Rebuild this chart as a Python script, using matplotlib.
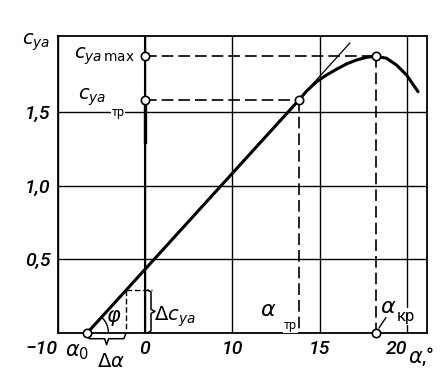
import numpy as np
import matplotlib
matplotlib.use('Agg')
import matplotlib.pyplot as plt

plt.rcParams['font.family'] = ['Roboto', 'DejaVu Sans']
plt.rcParams['mathtext.fontset'] = 'dejavusans'

# values (x in degrees as labelled on the axis)
alpha0 = -6.6          # zero-lift angle
alpha_tr = 13.8
alpha_kr = 18.22
cy_tr = 1.58
cy_max = 1.88
dalpha_end = -2.2      # end of the delta-alpha step
dcy = 0.29             # delta c_ya for that step

curve_alpha = [alpha0, 13.8, 14.25, 14.83, 15.40, 15.97, 16.54, 17.12, 17.69, 18.22,
               18.83, 19.40, 19.98, 20.64]
curve_cy = [0.0, 1.58, 1.643, 1.707, 1.753, 1.792, 1.828, 1.855, 1.873, 1.88,
            1.867, 1.821, 1.753, 1.639]
tangent_alpha = [alpha0, 16.73]
tangent_cy = [0.0, 1.97]

xticks = [-10, 0, 10, 15, 20]
xticklabels = ['\u221210', '0', '10', '15', '20']
yticks = [0.5, 1.0, 1.5]
yticklabels = ['0,5', '1,0', '1,5']


# the drawn axis is not uniform: -10..10 is squeezed to half the scale of 10..20
def fwd(x):
    x = np.asarray(x, dtype=float)
    return np.where(x <= 10, 5 + x / 2, x)


def inv(p):
    p = np.asarray(p, dtype=float)
    return np.where(p <= 10, 2 * (p - 5), p)


fig = plt.figure(figsize=(4.44, 3.74), dpi=100)
ax = fig.add_axes([0.130, 0.1104, 0.8317, 0.7941])
ax.set_xscale('function', functions=(fwd, inv))
ax.set_xlim(-10, 21.15)
ax.set_ylim(0, 2.02)

ax.set_xticks(xticks)
ax.set_xticklabels(xticklabels)
ax.set_yticks(yticks)
ax.set_yticklabels(yticklabels)
ax.tick_params(length=0, labelsize=14)
ax.tick_params(axis='x', pad=5)
ax.tick_params(axis='y', pad=5)
for lab in ax.get_xticklabels() + ax.get_yticklabels():
    lab.set_style('italic')
    lab.set_fontweight('medium')
xl = ax.get_xticklabels()
xl[0].set_ha('right')
xl[-1].set_ha('right')
for s in ax.spines.values():
    s.set_linewidth(1.3)

ax.grid(True, color='black', lw=1.0)
ax.axvline(0, color='black', lw=1.5)
ax.plot([0, 0], [cy_tr, 1.30], color='black', lw=2.4)

dash = (0, (7, 3))
ax.plot([0, alpha_kr], [cy_max, cy_max], color='black', lw=1.2, ls=dash)
ax.plot([0, alpha_tr], [cy_tr, cy_tr], color='black', lw=1.2, ls=dash)
ax.plot([alpha_tr, alpha_tr], [cy_tr, 0], color='black', lw=1.2, ls=dash)
ax.plot([alpha_kr, alpha_kr], [cy_max, 0], color='black', lw=1.2, ls=dash)
ax.plot([dalpha_end, dalpha_end], [dcy, 0], color='black', lw=1.0, ls=(0, (4, 2)))
ax.plot([dalpha_end, 0.75], [dcy, dcy], color='black', lw=1.0, ls=(0, (4, 2)))

ax.plot(tangent_alpha, tangent_cy, color='black', lw=0.9)
ax.plot(curve_alpha, curve_cy, color='black', lw=2.2, solid_capstyle='round',
        solid_joinstyle='round')

mk = dict(marker='o', ms=6, mfc='white', mec='black', mew=1.2, ls='none', clip_on=False, zorder=5)
ax.plot([alpha0, 0, 0, alpha_tr, alpha_kr, alpha_kr], [0, cy_tr, cy_max, cy_tr, cy_max, 0], **mk)

# angle arc phi, drawn round in pixels
p0 = ax.transData.transform((alpha0, 0))
p1 = ax.transData.transform((alpha_tr, cy_tr))
ang = np.arctan2(p1[1] - p0[1], p1[0] - p0[0])
t = np.linspace(0, ang, 30)
arc = ax.transData.inverted().transform(np.column_stack([p0[0] + 21 * np.cos(t), p0[1] + 21 * np.sin(t)]))
ax.plot(arc[:, 0], arc[:, 1], color='black', lw=1.0, clip_on=False)


def brace(a, b, depth, nub, horizontal=True):
    # a, b in display pixels; brace bulges along -y (horizontal) or +x (vertical)
    if horizontal:
        xa, xb, y0 = a[0], b[0], a[1]
        xm = (xa + xb) / 2
        pts = [(xa, y0 - 1), (xa + 2, y0 - depth), (xm - 2, y0 - depth), (xm, y0 - nub),
               (xm + 2, y0 - depth), (xb - 2, y0 - depth), (xb, y0 - 1)]
    else:
        ya, yb, x0 = a[1], b[1], a[0]
        ym = (ya + yb) / 2
        pts = [(x0 - 3, ya), (x0, ya + 2), (x0, ym - 2), (x0 + 4, ym),
               (x0, ym + 2), (x0, yb - 2), (x0 - 3, yb)]
    d = ax.transData.inverted().transform(np.array(pts))
    ax.plot(d[:, 0], d[:, 1], color='black', lw=1.1, clip_on=False)


brace(ax.transData.transform((alpha0, 0)), ax.transData.transform((dalpha_end, 0)), 6, 12)
q = ax.transData.transform((0, 0))
brace((q[0] + 6, q[1]), (q[0] + 6, ax.transData.transform((0, dcy))[1]), 0, 0, horizontal=False)

# leader for alpha_kr
ax.annotate('', xy=(alpha_kr, 0), xytext=(10, 15), textcoords='offset pixels',
            arrowprops=dict(arrowstyle='-', lw=1.0, shrinkA=0, shrinkB=4))


def label(s, xy, dx, dy, coords='data', **kw):
    kw.setdefault('ha', 'center')
    kw.setdefault('va', 'center')
    ax.annotate(s, xy, xycoords=coords, xytext=(dx, dy), textcoords='offset pixels',
                annotation_clip=False, **kw)


wbox = dict(boxstyle='square,pad=0.05', fc='white', ec='none')
label(r'$c_{ya}$', (0, 1), -22, -7, coords='axes fraction', fontsize=14)
label(r'$c_{ya\,\mathrm{max}}$', (0, cy_max), -10, 0, ha='right', fontsize=14)
label(r'$c_{ya}$', (0, cy_tr), -53, 3, fontsize=14)
label('тр', (0, cy_tr), -27, -12, fontsize=9, bbox=wbox)
label(r'$\varphi$', (alpha0, 0), 26, 15, fontsize=15, fontweight='bold')
label(r'$\Delta c_{ya}$', (0, 0), 9, 16, ha='left', fontsize=14)
label(r'$\alpha_0$', (alpha0, 0), -10, -19, fontsize=15)
label(r'$\Delta\alpha$', (alpha0, 0), 24, -29, fontsize=14)
label(r'$\alpha$', (alpha_tr, 0), -30, 22, fontsize=16)
label('тр', (alpha_tr, 0), -8, 7, fontsize=9, bbox=wbox)
label(r'$\alpha$', (alpha_kr, 0), 12, 25, fontsize=16)
label('кр', (alpha_kr, 0), 30, 16, fontsize=12, bbox=wbox)
label(r'$\alpha$,°', (20, 0), 1, -24, ha='left', fontsize=15)

fig.savefig('out.png', dpi=100)
